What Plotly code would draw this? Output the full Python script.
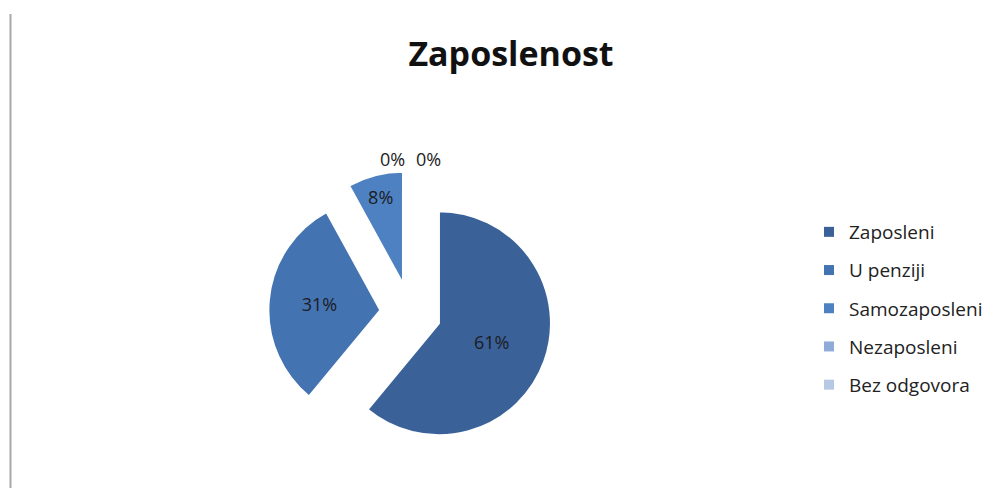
import plotly.graph_objects as go

categories = ["Zaposleni", "U penziji", "Samozaposleni", "Nezaposleni", "Bez odgovora"]
values = [61, 31, 8, 0, 0]
colors = ["#3A6198", "#4473B1", "#4E81C2", "#91ABD8", "#B7C8E5"]
title_text = "Zaposlenost"

# figure size (page body has an 8px margin)
W, H = 990, 480
cx, cy, R, P = 402.5, 305, 112, 0.27
half = R * (1 + P)
pulls = [P] * len(values)

fig = go.Figure()
fig.add_trace(go.Pie(
    labels=categories,
    values=values,
    sort=False,
    direction="clockwise",
    rotation=0,
    pull=pulls,
    marker=dict(colors=colors, line=dict(color="white", width=2)),
    texttemplate=["%{percent:.0%}" if v > 0 else "" for v in values],
    textposition="inside",
    insidetextorientation="horizontal",
    textfont=dict(family="Open Sans", size=18, color="#1c1c24"),
    domain=dict(x=[(cx - half) / W, (cx + half) / W],
                y=[1 - (cy + half) / H, 1 - (cy - half) / H]),
    showlegend=False,
    hoverinfo="label+percent",
))

# legend entries (one group each so spacing can be controlled)
for cat, col in zip(categories, colors):
    fig.add_trace(go.Scatter(
        x=[None], y=[None], mode="markers", name=cat, legendgroup=cat,
        marker=dict(symbol="square", size=10, color=col),
        showlegend=True,
    ))

# labels of the zero-valued slices
zero_label_x = [384, 420]
zero_label_y = 151
annotations = []
zi = 0
for v in values:
    if v == 0:
        annotations.append(dict(
            text=f"{v}%", xref="paper", yref="paper",
            x=zero_label_x[zi] / W, y=1 - zero_label_y / H,
            xanchor="center", yanchor="middle", showarrow=False,
            font=dict(family="Open Sans", size=18, color="#1c1c24")))
        zi += 1

fig.update_layout(
    width=W, height=H,
    margin=dict(l=0, r=0, t=0, b=0),
    paper_bgcolor="white",
    plot_bgcolor="white",
    xaxis=dict(visible=False),
    yaxis=dict(visible=False),
    title=dict(text="<b>" + title_text + "</b>", x=503 / W, xanchor="center",
               y=1 - 46 / H, yanchor="middle",
               font=dict(family="Open Sans", size=34, color="#111111")),
    legend=dict(x=801 / W, y=1 - 205 / H, xanchor="left", yanchor="top",
                font=dict(family="Open Sans", size=19, color="#222222"),
                tracegroupgap=10.5, traceorder="grouped",
                bgcolor="rgba(0,0,0,0)"),
    annotations=annotations,
    shapes=[dict(type="line", xref="paper", yref="paper",
                 x0=2.5 / W, x1=2.5 / W, y0=0, y1=1 - 6 / H,
                 line=dict(color="#a8a8a8", width=2))],
)

fig.write_html("out.html")
